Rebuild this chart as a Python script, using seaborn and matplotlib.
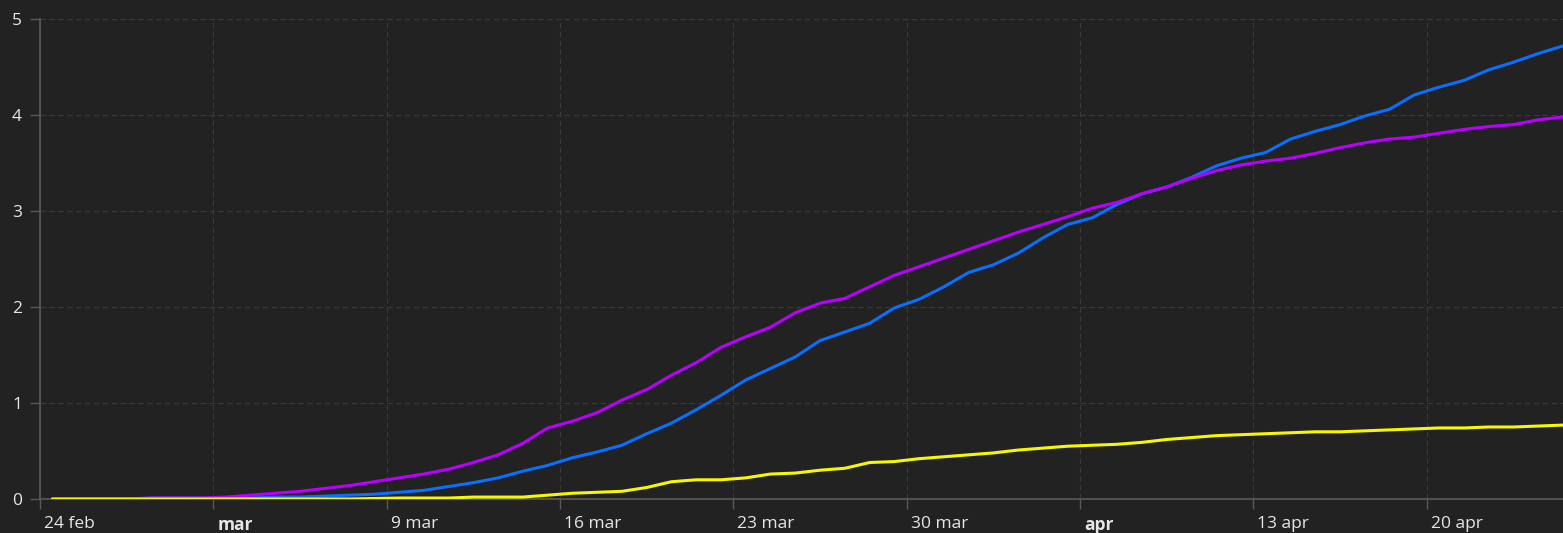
import pandas as pd
import numpy as np
import matplotlib
matplotlib.use('Agg')
import matplotlib.pyplot as plt
import matplotlib.transforms as mtransforms
import seaborn as sns

# Datos diarios (24 feb - 25 apr 2020)
fechas = pd.date_range('2020-02-24', periods=62, freq='D')

serie_azul = [0, 0, 0, 0, 0.01, 0.01, 0.01, 0.01, 0.01, 0.02,
              0.02, 0.03, 0.04, 0.05, 0.07, 0.09, 0.13, 0.17, 0.22, 0.29,
              0.35, 0.43, 0.49, 0.56, 0.68, 0.79, 0.93, 1.08, 1.24, 1.36,
              1.48, 1.65, 1.74, 1.83, 1.99, 2.08, 2.21, 2.36, 2.44, 2.56,
              2.72, 2.86, 2.93, 3.07, 3.18, 3.25, 3.35, 3.47, 3.55, 3.61,
              3.75, 3.83, 3.90, 3.99, 4.06, 4.21, 4.29, 4.36, 4.47, 4.55,
              4.64, 4.72]

serie_morada = [0, 0, 0, 0, 0.01, 0.01, 0.01, 0.02, 0.04, 0.06,
                0.08, 0.11, 0.14, 0.18, 0.22, 0.26, 0.31, 0.38, 0.46, 0.58,
                0.74, 0.81, 0.90, 1.03, 1.14, 1.29, 1.42, 1.58, 1.69, 1.79,
                1.94, 2.04, 2.09, 2.21, 2.33, 2.42, 2.51, 2.60, 2.69, 2.78,
                2.86, 2.94, 3.03, 3.09, 3.18, 3.25, 3.34, 3.42, 3.48, 3.52,
                3.55, 3.60, 3.66, 3.71, 3.75, 3.77, 3.81, 3.85, 3.88, 3.90,
                3.95, 3.98]

serie_amarilla = [0, 0, 0, 0, 0, 0, 0, 0, 0, 0,
                  0, 0, 0, 0.005, 0.01, 0.01, 0.01, 0.02, 0.02, 0.02,
                  0.04, 0.06, 0.07, 0.08, 0.12, 0.18, 0.20, 0.20, 0.22, 0.26,
                  0.27, 0.30, 0.32, 0.38, 0.39, 0.42, 0.44, 0.46, 0.48, 0.51,
                  0.53, 0.55, 0.56, 0.57, 0.59, 0.62, 0.64, 0.66, 0.67, 0.68,
                  0.69, 0.70, 0.70, 0.71, 0.72, 0.73, 0.74, 0.74, 0.75, 0.75,
                  0.76, 0.77]

ticks_x = pd.date_range('2020-02-24', '2020-04-20', freq='7D')
etiquetas_x = ['24 feb', 'mar', '9 mar', '16 mar', '23 mar', '30 mar', 'apr', '13 apr', '20 apr']
etiquetas_negrita = ['mar', 'apr']
ticks_y = [0, 1, 2, 3, 4, 5]

colores = {'azul': '#0a6eff', 'morada': '#b800ff', 'amarilla': '#f7f700'}

# Tabla larga para seaborn (puntos a mediodia)
df = pd.DataFrame({
    'fecha': list(fechas) * 3,
    'valor': serie_azul + serie_morada + serie_amarilla,
    'serie': ['azul'] * 62 + ['morada'] * 62 + ['amarilla'] * 62,
})
df['fecha'] = df['fecha'] + pd.Timedelta(hours=12)

fondo = '#222222'
sns.set_style('dark', {'axes.facecolor': fondo, 'figure.facecolor': fondo})
plt.rcParams['font.family'] = ['Open Sans', 'DejaVu Sans']

fig = plt.figure(figsize=(15.63, 5.33), dpi=100)
ax = fig.add_axes([40 / 1563, 34 / 533, 1 - 40 / 1563, 480 / 533])

sns.lineplot(data=df, x='fecha', y='valor', hue='serie', palette=colores,
             linewidth=2.2, legend=False, ax=ax, zorder=3)

ax.set_xlim(pd.Timestamp('2020-02-24'), pd.Timestamp('2020-04-25 12:00'))
ax.set_ylim(0, 5)
ax.set_xlabel('')
ax.set_ylabel('')

ax.set_yticks(ticks_y)
ax.set_yticklabels([str(v) for v in ticks_y])
ax.set_xticks(ticks_x)
ax.set_xticklabels(etiquetas_x)

ax.grid(True, color='#3a3a3a', linestyle=(0, (5, 3)), linewidth=0.8)
ax.set_axisbelow(True)

for lado in ['top', 'right']:
    ax.spines[lado].set_visible(False)
for lado in ['left', 'bottom']:
    ax.spines[lado].set_visible(True)
    ax.spines[lado].set_color('#5a5a5a')
    ax.spines[lado].set_linewidth(1.2)

ax.tick_params(axis='both', colors='#5a5a5a', length=7, width=1,
               labelcolor='#e6e6e6', labelsize=12.5, direction='out',
               bottom=True, left=True)
ax.tick_params(axis='y', pad=6)
ax.tick_params(axis='x', pad=5)

desplazamiento = mtransforms.ScaledTranslation(4 / 100, 0, fig.dpi_scale_trans)
for etiqueta in ax.get_xticklabels():
    etiqueta.set_horizontalalignment('left')
    etiqueta.set_transform(etiqueta.get_transform() + desplazamiento)
    if etiqueta.get_text() in etiquetas_negrita:
        etiqueta.set_fontweight('bold')

fig.savefig('out.png', dpi=100, facecolor=fondo)
